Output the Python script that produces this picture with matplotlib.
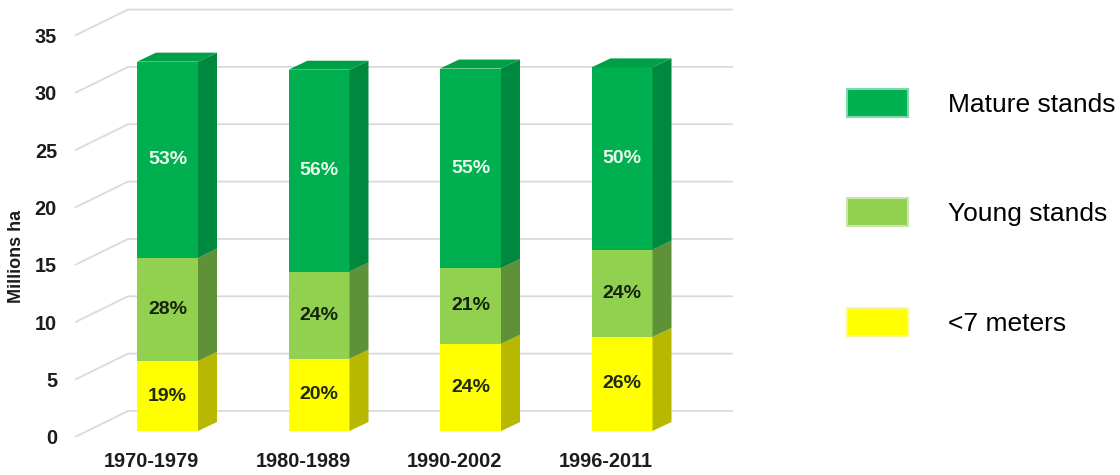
import matplotlib
matplotlib.use("Agg")
import matplotlib.pyplot as plt
from matplotlib.patches import Polygon, Patch
import numpy as np

# ---------------- data ----------------
categories = ['1970-1979', '1980-1989', '1990-2002', '1996-2011']
lt7 = [6.1, 6.3, 7.6, 8.2]          # <7 meters (Millions ha)
young = [9.0, 7.6, 6.6, 7.6]        # Young stands
mature = [17.1, 17.6, 17.4, 15.9]   # Mature stands
pct_lt7 = ['19%', '20%', '24%', '26%']
pct_young = ['28%', '24%', '21%', '24%']
pct_mature = ['53%', '56%', '55%', '50%']
yticks = [0, 5, 10, 15, 20, 25, 30, 35]
legend_labels = ['Mature stands', 'Young stands', '<7 meters']

# ---------------- style ----------------
plt.rcParams['font.family'] = ['Liberation Sans', 'DejaVu Sans']
W, H = 1120, 475
C_MAT = ('#00B050', '#00893E', '#00A046')   # front, side, top
C_YNG = ('#92D050', '#5F9238', '#7DB843')
C_LT7 = ('#FFFF00', '#B8B800', '#D8D800')
GRID = '#DADADA'

fig = plt.figure(figsize=(W / 100, H / 100), dpi=100)

# bar plane geometry (pixels)
x_left_px, x_right_px = 75, 733
y0_px, ppu = 431, 11.47
cx0, pitch = 167.5, 151.5
xlim = ((x_left_px - cx0) / pitch, (x_right_px - cx0) / pitch)
ylim = (0, 35)
ax_h = 35 * ppu
rect = [x_left_px / W, (H - y0_px) / H, (x_right_px - x_left_px) / W, ax_h / H]

# front axes (tick labels) shifted in perspective
axf = fig.add_axes([rect[0] - 16 / W, rect[1] - 6 / H, rect[2], rect[3]])
axf.set_xlim(xlim)
axf.set_ylim(ylim)
axf.patch.set_visible(False)
for s in axf.spines.values():
    s.set_visible(False)
x = np.arange(len(categories))
axf.set_xticks(x, categories)
axf.set_yticks(yticks, [str(t) for t in yticks])
axf.tick_params(axis='x', length=0, pad=11, labelsize=14.3, labelcolor='#1c1c1c')
axf.tick_params(axis='y', length=0, pad=1.5, labelsize=14.3, labelcolor='#1c1c1c')
for lbl in axf.get_xticklabels() + axf.get_yticklabels():
    lbl.set_fontweight('bold')

# bar axes
ax = fig.add_axes(rect)
ax.set_xlim(xlim)
ax.set_ylim(ylim)
ax.axis('off')

# gridlines: back wall + floor diagonal
back_dy = 20 / ppu
front_dy = -6 / ppu
back_x0 = (128 - cx0) / pitch
for v in yticks:
    ax.plot([xlim[0], back_x0, xlim[1]], [v + front_dy, v + back_dy, v + back_dy],
            color=GRID, lw=1.3, clip_on=False, zorder=1, solid_capstyle='butt')

# bars
bw = 61 / pitch
ddx, ddy = 19 / pitch, 9 / ppu
bottoms = np.zeros(len(categories))
series = [(lt7, C_LT7, pct_lt7, '#1e2a0e'),
          (young, C_YNG, pct_young, '#14240c'),
          (mature, C_MAT, pct_mature, '#EAF8EC')]
for si, (vals, cols, pcts, tcol) in enumerate(series):
    vals = np.array(vals)
    ax.bar(x, vals, bottom=bottoms, width=bw, color=cols[0], lw=0, zorder=3)
    for i in range(len(x)):
        b, t = bottoms[i], bottoms[i] + vals[i]
        xr = x[i] + bw / 2
        ax.add_patch(Polygon([(xr, b), (xr + ddx, b + ddy), (xr + ddx, t + ddy), (xr, t)],
                             closed=True, fc=cols[1], ec='none', zorder=3, clip_on=False))
        if si == len(series) - 1:
            xl = x[i] - bw / 2
            ax.add_patch(Polygon([(xl, t), (xl + ddx, t + ddy), (xr + ddx, t + ddy), (xr, t)],
                                 closed=True, fc=cols[2], ec='none', zorder=3, clip_on=False))
        ax.text(x[i], (b + t) / 2, pcts[i], ha='center', va='center',
                fontsize=14, fontweight='bold', color=tcol, zorder=5)
    bottoms = bottoms + vals

# y label
fig.text(17 / W, 1 - 256 / H, 'Millions ha', rotation=90, ha='center', va='center',
         fontsize=13, fontweight='bold', color='#1c1c1c')

# legend
handles = [Patch(facecolor=C_MAT[0], edgecolor='#7FD8A7', lw=1.5),
           Patch(facecolor=C_YNG[0], edgecolor='#C8E6A8', lw=1.5),
           Patch(facecolor=C_LT7[0], edgecolor='#F8F890', lw=1.5)]
fs = 19
fig.legend(handles, legend_labels, loc='upper left',
           bbox_to_anchor=(847 / W, 1 - 89 / H), frameon=False, fontsize=fs,
           handlelength=61 / 26.4, handleheight=33 / 26.4, handletextpad=40 / 26.4,
           labelspacing=81.5 / 26.4, borderpad=0, borderaxespad=0)

fig.savefig('out.png', dpi=100, facecolor='white')
